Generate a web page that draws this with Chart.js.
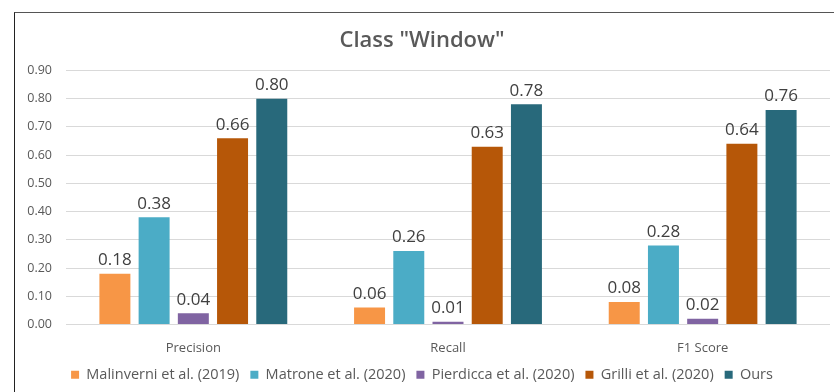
<!DOCTYPE html>
<html>
<head>
<meta charset="utf-8">
<script src="https://cdn.jsdelivr.net/npm/chart.js@4/dist/chart.umd.min.js"></script>
<style>
  html, body { margin: 0; padding: 0; background: #fff; }
  .wrap { position: relative; width: 834px; height: 392px; overflow: hidden; }
  .frame { position: absolute; left: 14px; top: 12px; width: 840px; height: 400px;
           border-left: 1px solid #222; border-top: 1px solid #555; }
  canvas { position: absolute; left: 0; top: 0; }
</style>
</head>
<body>
<div class="wrap">
  <div class="frame"></div>
  <canvas id="chart" width="834" height="392"></canvas>
</div>
<script>
const categories = ['Precision', 'Recall', 'F1 Score']
const seriesNames = ['Malinverni et al. (2019)', 'Matrone et al. (2020)', 'Pierdicca et al. (2020)', 'Grilli et al. (2020)', 'Ours']
const malinverni = [0.18, 0.06, 0.08]
const matrone = [0.38, 0.26, 0.28]
const pierdicca = [0.04, 0.01, 0.02]
const grilli = [0.66, 0.63, 0.64]
const ours = [0.80, 0.78, 0.76]
const colors = ['#F79646', '#4BACC6', '#8064A2', '#B65708', '#28697B']

const font = "'Open Sans', 'Noto Sans', sans-serif"

// value labels above each bar
const barLabels = {
    id: 'barLabels',
    afterDatasetsDraw(chart) {
        const ctx = chart.ctx
        ctx.save()
        ctx.font = '17px ' + font
        ctx.fillStyle = '#404040'
        ctx.textAlign = 'center'
        ctx.textBaseline = 'bottom'
        chart.data.datasets.forEach((ds, i) => {
            chart.getDatasetMeta(i).data.forEach((bar, j) => {
                ctx.fillText(ds.data[j].toFixed(2), bar.x, bar.y - 5)
            })
        })
        ctx.restore()
    }
}

const datasets = [malinverni, matrone, pierdicca, grilli, ours].map((d, i) => ({
    label: seriesNames[i],
    data: d,
    backgroundColor: colors[i],
    borderWidth: 0,
    categoryPercentage: 0.77,
    barPercentage: 0.79
}))

new Chart(document.getElementById('chart'), {
    type: 'bar',
    data: { labels: categories, datasets: datasets },
    plugins: [barLabels],
    options: {
        responsive: false,
        animation: false,
        layout: { padding: { left: 14, right: 4, top: 28, bottom: 0 } },
        plugins: {
            title: {
                display: true,
                text: 'Class "Window"',
                color: '#595959',
                font: { family: font, size: 22, weight: '600' },
                padding: { top: 0, bottom: 16 }
            },
            legend: {
                position: 'bottom',
                labels: {
                    boxWidth: 8,
                    boxHeight: 8,
                    color: '#595959',
                    font: { family: font, size: 14.5 },
                    padding: 11
                }
            },
            tooltip: { enabled: false }
        },
        scales: {
            x: {
                afterFit: scale => { scale.height = 32 },
                grid: { display: false },
                border: { display: false },
                ticks: { color: '#595959', font: { family: font, size: 13 }, padding: 8 }
            },
            y: {
                min: 0,
                max: 0.9,
                afterFit: scale => { scale.width = 52 },
                grid: { color: '#D9D9D9', drawTicks: false },
                border: { display: false },
                ticks: {
                    stepSize: 0.1,
                    color: '#595959',
                    font: { family: font, size: 12.5 },
                    padding: 14,
                    callback: v => v.toFixed(2)
                }
            }
        }
    }
})
</script>
</body>
</html>
